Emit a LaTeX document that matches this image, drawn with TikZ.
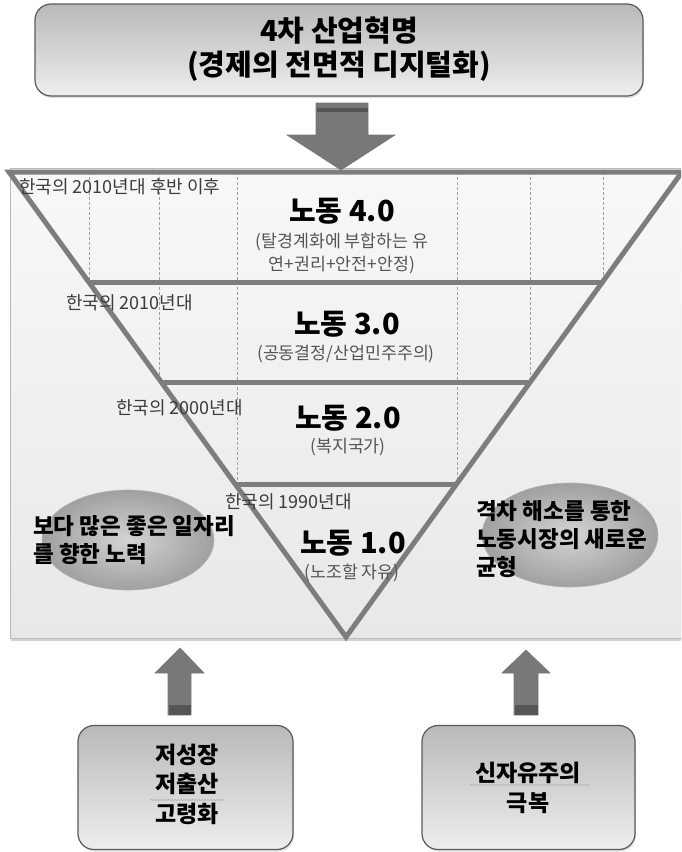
\documentclass[tikz,border=0pt]{standalone}
\usepackage{fontspec}
\setmainfont{Noto Sans CJK KR}
\usetikzlibrary{shadows,decorations.pathmorphing,calc,shapes.geometric}
\definecolor{triline}{RGB}{125,125,125}
\definecolor{arrowfill}{RGB}{120,120,120}
\definecolor{arrowdark}{RGB}{85,85,85}
\definecolor{boxedge}{RGB}{90,90,90}
\definecolor{periodtxt}{RGB}{60,60,60}
\definecolor{subtxt}{RGB}{85,85,85}
\tikzset{
  roundbox/.style={draw=boxedge, line width=1.2pt, rounded corners=16pt,
    top color={rgb,255:red,185;green,185;blue,185},
    bottom color={rgb,255:red,238;green,238;blue,238},
    drop shadow={opacity=0.25, shadow xshift=1pt, shadow yshift=-2pt}},
  triedge/.style={draw=triline, line width=5pt, line join=miter},
  cellline/.style={draw=gray!75, line width=0.5pt, dash pattern=on 3pt off 2pt},
  blockarrow/.style={fill=arrowfill, draw=arrowdark!80, line width=0.6pt},
  ell/.style={ellipse, draw=gray!60, line width=0.6pt,
    inner color={rgb,255:red,212;green,212;blue,212},
    outer color={rgb,255:red,160;green,160;blue,160}},
  labtitle/.style={font=\bfseries\fontsize{29}{34}\selectfont, text=black, inner sep=0pt},
  labmain/.style={font=\bfseries\fontsize{29}{34}\selectfont, text=black, inner sep=0pt},
  labsub/.style={font=\fontsize{17.3}{20}\selectfont, text=subtxt, inner sep=0pt},
  labperiod/.style={font=\fontsize{18}{21}\selectfont, text=periodtxt, inner sep=0pt, anchor=west},
  labell/.style={font=\bfseries\fontsize{22.5}{28}\selectfont, text=black, inner sep=0pt, align=left, anchor=north west},
  labbox/.style={font=\bfseries\fontsize{23}{29.5}\selectfont, text=black, inner sep=0pt, align=center},
  squiggle/.style={draw=gray!60, line width=0.5pt, decorate, decoration={snake, amplitude=0.8pt, segment length=3pt}}
}
\begin{document}
\begin{tikzpicture}[x=1pt,y=-1pt]
\useasboundingbox (0,0) rectangle (681,852);
\fill[white] (0,0) rectangle (681,852);
\begin{scope}
\clip (0,0) rectangle (681,852);
% panel
\draw[draw=gray!55, line width=0.8pt,
  top color={rgb,255:red,248;green,248;blue,248},
  bottom color={rgb,255:red,232;green,232;blue,232},
  drop shadow={opacity=0.35, shadow xshift=1pt, shadow yshift=-3pt}]
  (10,168) rectangle (700,638);
% table cell lines
\draw[cellline] (89,172) -- (89,282);
\draw[cellline] (159,172) -- (159,382);
\draw[cellline] (237,172) -- (237,485);
\draw[cellline] (457,172) -- (457,485);
\draw[cellline] (530,172) -- (530,382);
\draw[cellline] (603,172) -- (603,282);
% triangle
\coordinate (TL) at (9,172);
\coordinate (TR) at (682,172);
\coordinate (AP) at (346,637);
\draw[triedge] (TL) -- (TR) -- (AP) -- cycle;
\draw[triedge] ($(TL)!0.2366!(AP)$) -- ($(TR)!0.2366!(AP)$);
\draw[triedge] ($(TL)!0.4516!(AP)$) -- ($(TR)!0.4516!(AP)$);
\draw[triedge] ($(TL)!0.673!(AP)$) -- ($(TR)!0.673!(AP)$);
\end{scope}
% title box
\node[roundbox, minimum width=608pt, minimum height=92pt, inner sep=0pt] (title) at (339,50) {};
\node[labtitle] (title1) at (339,31) {4차 산업혁명};
\node[labtitle] (title2) at (339,66) {(경제의 전면적 디지털화)};
% down arrow
\coordinate (DA) at (341,170);
\draw[blockarrow] (316,103) -- (368,103) -- (368,135) -- (395,135) -- (DA) -- (287,135) -- (316,135) -- cycle;
\fill[arrowdark] (316.5,108) rectangle (367.5,112);
% level texts
\node[labperiod] (p4) at (19,187) {한국의 2010년대 후반 이후};
\node[labmain] (l4) at (342,211) {노동 4.0};
\node[labsub] (s4a) at (342,242) {(탈경계화에 부합하는 유};
\node[labsub] (s4b) at (342,265) {연+권리+안전+안정)};
\node[labperiod] (p3) at (66,303) {한국의 2010년대};
\node[labmain] (l3) at (347,324) {노동 3.0};
\node[labsub] (s3) at (346,354) {(공동결정/산업민주주의)};
\node[labperiod] (p2) at (116,408) {한국의 2000년대};
\node[labmain] (l2) at (348,418) {노동 2.0};
\node[labsub] (s2) at (348,447) {(복지국가)};
\node[labperiod] (p1) at (225,502) {한국의 1990년대};
\node[labmain] (l1) at (353,543) {노동 1.0};
\node[labsub] (s1) at (352,573) {(노조할 자유)};
% ellipses
\node[ell, minimum width=172pt, minimum height=100pt] (e1) at (128,540) {};
\node[ell, minimum width=176pt, minimum height=104pt] (e2) at (570,535) {};
\node[labell] (e1t) at (33,515) {보다 많은 좋은 일자리\\를 향한 노력};
\node[labell] (e2t) at (476,500) {격차 해소를 통한\\노동시장의 새로운\\균형};
% up arrows
\coordinate (UA1) at (180,648);
\draw[blockarrow] (168,715) -- (168,673) -- (155,673) -- (UA1) -- (204,673) -- (191,673) -- (191,715) -- cycle;
\fill[arrowdark] (168.5,705) rectangle (190.5,714.5);
\coordinate (UA2) at (526,650);
\draw[blockarrow] (514,715) -- (514,673) -- (502,673) -- (UA2) -- (550,673) -- (538,673) -- (538,715) -- cycle;
\fill[arrowdark] (514.5,705) rectangle (537.5,714.5);
% bottom boxes
\node[roundbox, minimum width=215pt, minimum height=124pt, inner sep=0pt] (b1) at (185.5,787.5) {};
\node[roundbox, minimum width=213pt, minimum height=124pt, inner sep=0pt] (b2) at (528.5,787.5) {};
\node[labbox] (b1t) at (187,784) {저성장\\저출산\\고령화};
\node[labbox] (b2t) at (528,788) {신자유주의\\극복};
\draw[squiggle] (150,800) -- (224,800);
\draw[squiggle] (470,785) -- (590,785);
\end{tikzpicture}
\end{document}
